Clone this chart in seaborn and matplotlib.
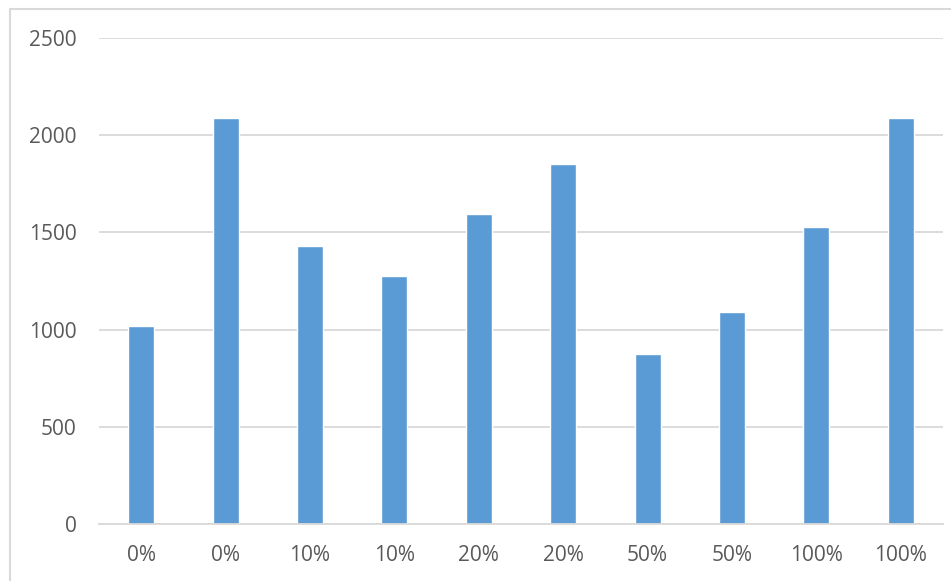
import matplotlib
matplotlib.use("Agg")
import matplotlib.pyplot as plt
import seaborn as sns
import numpy as np
import pandas as pd
from matplotlib.patches import Rectangle

categories = ["0%", "0%", "10%", "10%", "20%", "20%", "50%", "50%", "100%", "100%"]
values = [1020, 2087, 1432, 1276, 1593, 1853, 873, 1092, 1529, 2088]
yticks = [0, 500, 1000, 1500, 2000, 2500]

sns.set_theme(style="white")
plt.rcParams['font.family'] = ['Open Sans', 'DejaVu Sans']

fig = plt.figure(figsize=(9.51, 5.81), dpi=100)
ax = fig.add_axes([99/951, 1-524/581, (943-99)/951, (524-38)/581])

df = pd.DataFrame({"idx": np.arange(len(values)), "value": values})
sns.barplot(data=df, x="idx", y="value", ax=ax, color="#5B9BD5", saturation=1, width=0.31)

ax.set_ylim(0, 2500)
ax.set_yticks(yticks)
ax.set_xticks(range(len(categories)))
ax.set_xticklabels(categories)
ax.set_xlabel("")
ax.set_ylabel("")
ax.grid(axis="y", color="#D9D9D9", linewidth=1.3)
ax.set_axisbelow(True)
for s in ["top", "right", "left"]:
    ax.spines[s].set_visible(False)
ax.spines["bottom"].set_color("#D9D9D9")
ax.spines["bottom"].set_linewidth(1.3)
ax.tick_params(axis="y", length=0, pad=16, labelsize=15, labelcolor="#595959")
ax.tick_params(axis="x", length=0, pad=15, labelsize=15, labelcolor="#595959")
ax.set_xlim(-0.5, len(values) - 0.5)

# outer chart frame
fig.patches.append(Rectangle((10/951, -0.1), 1.2, 1 - 9/581 + 0.1, transform=fig.transFigure,
                             fill=False, edgecolor="#D9D9D9", linewidth=1.5))

fig.savefig("out.png", dpi=100, facecolor="white")
